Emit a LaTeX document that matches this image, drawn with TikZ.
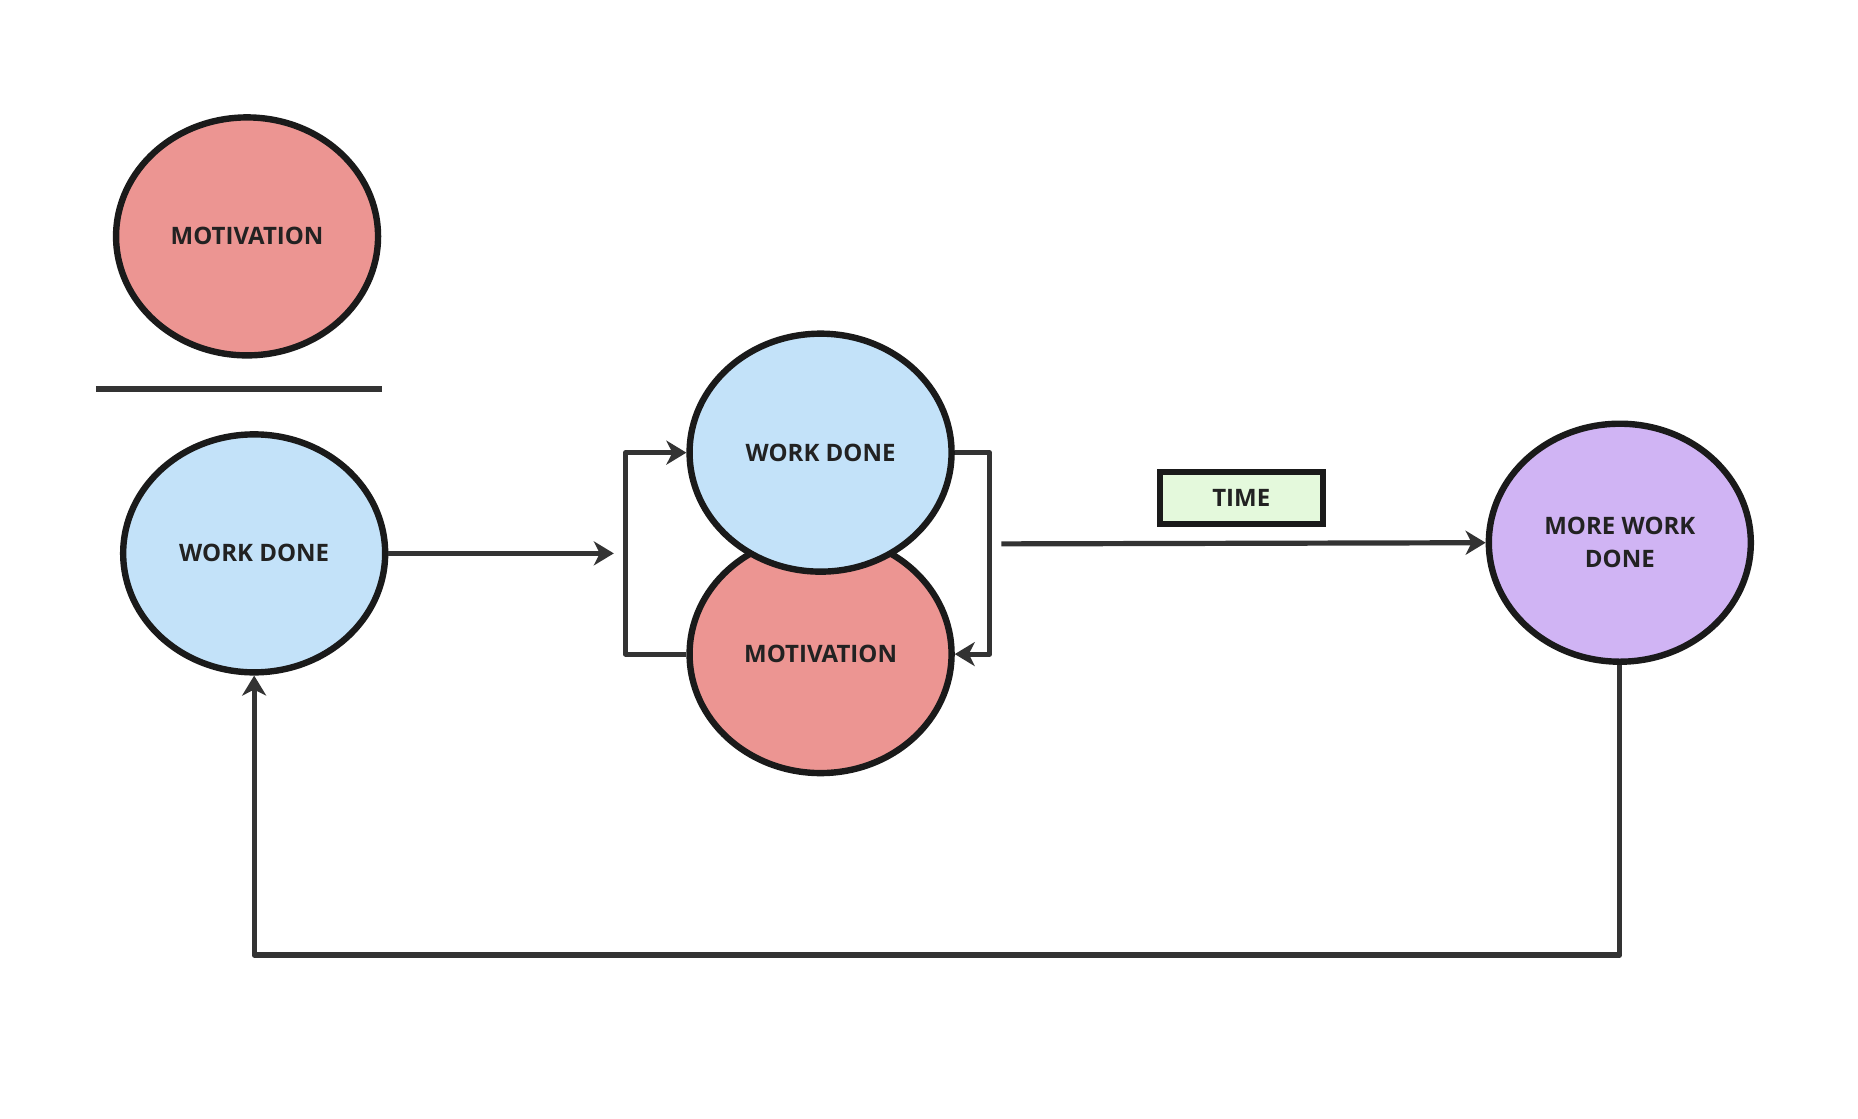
\documentclass[tikz,border=0pt]{standalone}
\usepackage{fontspec}
\setmainfont{Open Sans}
\usetikzlibrary{shapes.geometric,arrows.meta}
\definecolor{pinkfill}{HTML}{EC9592}
\definecolor{bluefill}{HTML}{C3E2F9}
\definecolor{purplefill}{HTML}{D0B4F4}
\definecolor{greenfill}{HTML}{E4F9DC}
\definecolor{edgecol}{HTML}{1A1A1A}
\definecolor{linecol}{HTML}{333333}
\definecolor{txtcol}{HTML}{222222}
\tikzset{
  bubble/.style={ellipse, draw=edgecol, line width=3.2pt, inner sep=0pt,
    minimum width=131pt, minimum height=119pt, text=txtcol,
    font=\fontsize{12}{16.5}\selectfont\bfseries, align=center},
  pinkbubble/.style={bubble, fill=pinkfill},
  bluebubble/.style={bubble, fill=bluefill},
  purplebubble/.style={bubble, fill=purplefill},
  timebox/.style={rectangle, draw=edgecol, line width=3.2pt, fill=greenfill,
    minimum width=81.5pt, minimum height=26pt, inner sep=0pt, text=txtcol,
    font=\fontsize{12}{16}\selectfont\bfseries},
  conn/.style={draw=linecol, line width=2.6pt, line join=round},
  arr/.style={conn, -{Stealth[length=10pt, width=12pt, inset=3pt]}},
}
\begin{document}
\begin{tikzpicture}[x=0.5925pt, y=-0.5925pt]
\useasboundingbox (0,0) rectangle (1568,944);
% top fraction
\node[pinkbubble] (mtop) at (208.5,199.5) {MOTIVATION};
\coordinate (barL) at (81,328);
\coordinate (barR) at (322,328);
\draw[conn, line width=3pt] (barL) -- (barR);
\node[bluebubble] (w1) at (214.5,467) {WORK DONE};
% middle pair
\node[pinkbubble] (m2) at (692.5,552) {MOTIVATION};
\node[bluebubble] (w2) at (692.5,382) {WORK DONE};
% right
\node[purplebubble] (m3) at (1367,458) {MORE WORK\\DONE};
\node[timebox] (time) at (1047.5,420.5) {TIME};
% connectors
\coordinate (a1) at (518,467);
\draw[arr] (w1.east) -- (a1);
\draw[arr] (m2.west) -- (m2.west -| 528,0) |- (w2.west);
\draw[arr] (w2.east) -- (w2.east -| 835,0) |- (m2.east);
\coordinate (ts) at (845,459);
\draw[arr] (ts) -- (m3.west);
\draw[arr] (m3.south) -- (m3.south |- 0,806) -| (w1.south);
\end{tikzpicture}
\end{document}
